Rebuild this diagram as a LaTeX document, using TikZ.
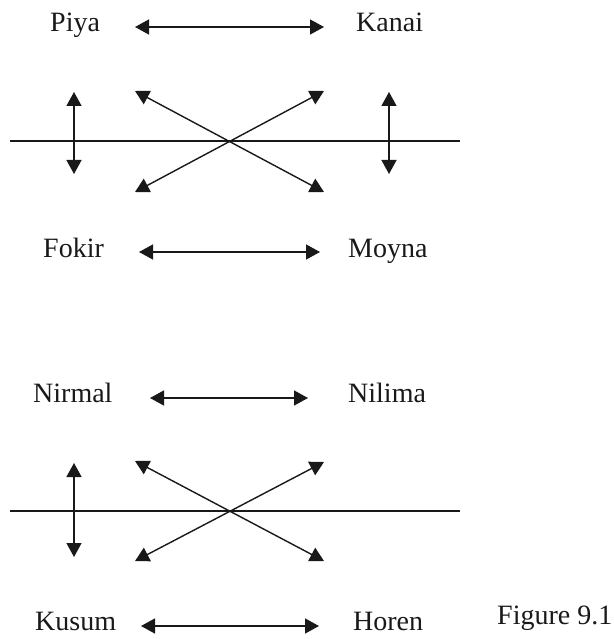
\documentclass[tikz,border=0pt]{standalone}
\usepackage{fontspec}
\setmainfont{Liberation Serif}
\usetikzlibrary{arrows.meta}
\tikzset{
  lbl/.style={anchor=base west, inner sep=0pt, font=\fontsize{28}{30}\selectfont, text=black!90},
  link/.style={line width=1.4pt, draw=black!90, {Triangle[length=14pt,width=15pt]}-{Triangle[length=14pt,width=15pt]}},
  axis/.style={line width=1.4pt, draw=black!90}
}
\begin{document}
\begin{tikzpicture}[x=1pt,y=-1pt]
\useasboundingbox (0,0) rectangle (613,639);
% ---------- top diagram ----------
\node[lbl] (piya) at (50,32) {Piya};
\node[lbl] (kanai) at (356,32) {Kanai};
\node[lbl] (fokir) at (43,257) {Fokir};
\node[lbl] (moyna) at (348,257) {Moyna};
\coordinate (a1) at (135,27);  \coordinate (a2) at (324,27);
\coordinate (b1) at (139,252); \coordinate (b2) at (320,252);
\coordinate (l1) at (10,141);  \coordinate (l2) at (460,141);
\coordinate (v1t) at (74,92);  \coordinate (v1b) at (74,174);
\coordinate (v2t) at (389,92); \coordinate (v2b) at (389,174);
\coordinate (xul) at (135,91); \coordinate (xur) at (324,91);
\coordinate (xll) at (135,192); \coordinate (xlr) at (324,192);
\draw[link] (a1) -- (a2);
\draw[link] (b1) -- (b2);
\draw[axis] (l1) -- (l2);
\draw[link] (v1t) -- (v1b);
\draw[link] (v2t) -- (v2b);
\draw[link] (xul) -- (xlr);
\draw[link] (xur) -- (xll);
% ---------- bottom diagram ----------
\node[lbl] (nirmal) at (33,402) {Nirmal};
\node[lbl] (nilima) at (348,402) {Nilima};
\node[lbl] (kusum) at (35,630) {Kusum};
\node[lbl] (horen) at (353,630) {Horen};
\node[lbl] (fig) at (497,624) {Figure 9.1};
\coordinate (c1) at (150,398); \coordinate (c2) at (308,398);
\coordinate (d1) at (141,626); \coordinate (d2) at (319,626);
\coordinate (m1) at (10,511);  \coordinate (m2) at (460,511);
\coordinate (w1t) at (74,463); \coordinate (w1b) at (74,557);
\coordinate (yul) at (135,461); \coordinate (yur) at (324,462);
\coordinate (yll) at (135,561); \coordinate (ylr) at (324,561);
\draw[link] (c1) -- (c2);
\draw[link] (d1) -- (d2);
\draw[axis] (m1) -- (m2);
\draw[link] (w1t) -- (w1b);
\draw[link] (yul) -- (ylr);
\draw[link] (yur) -- (yll);
\end{tikzpicture}
\end{document}
